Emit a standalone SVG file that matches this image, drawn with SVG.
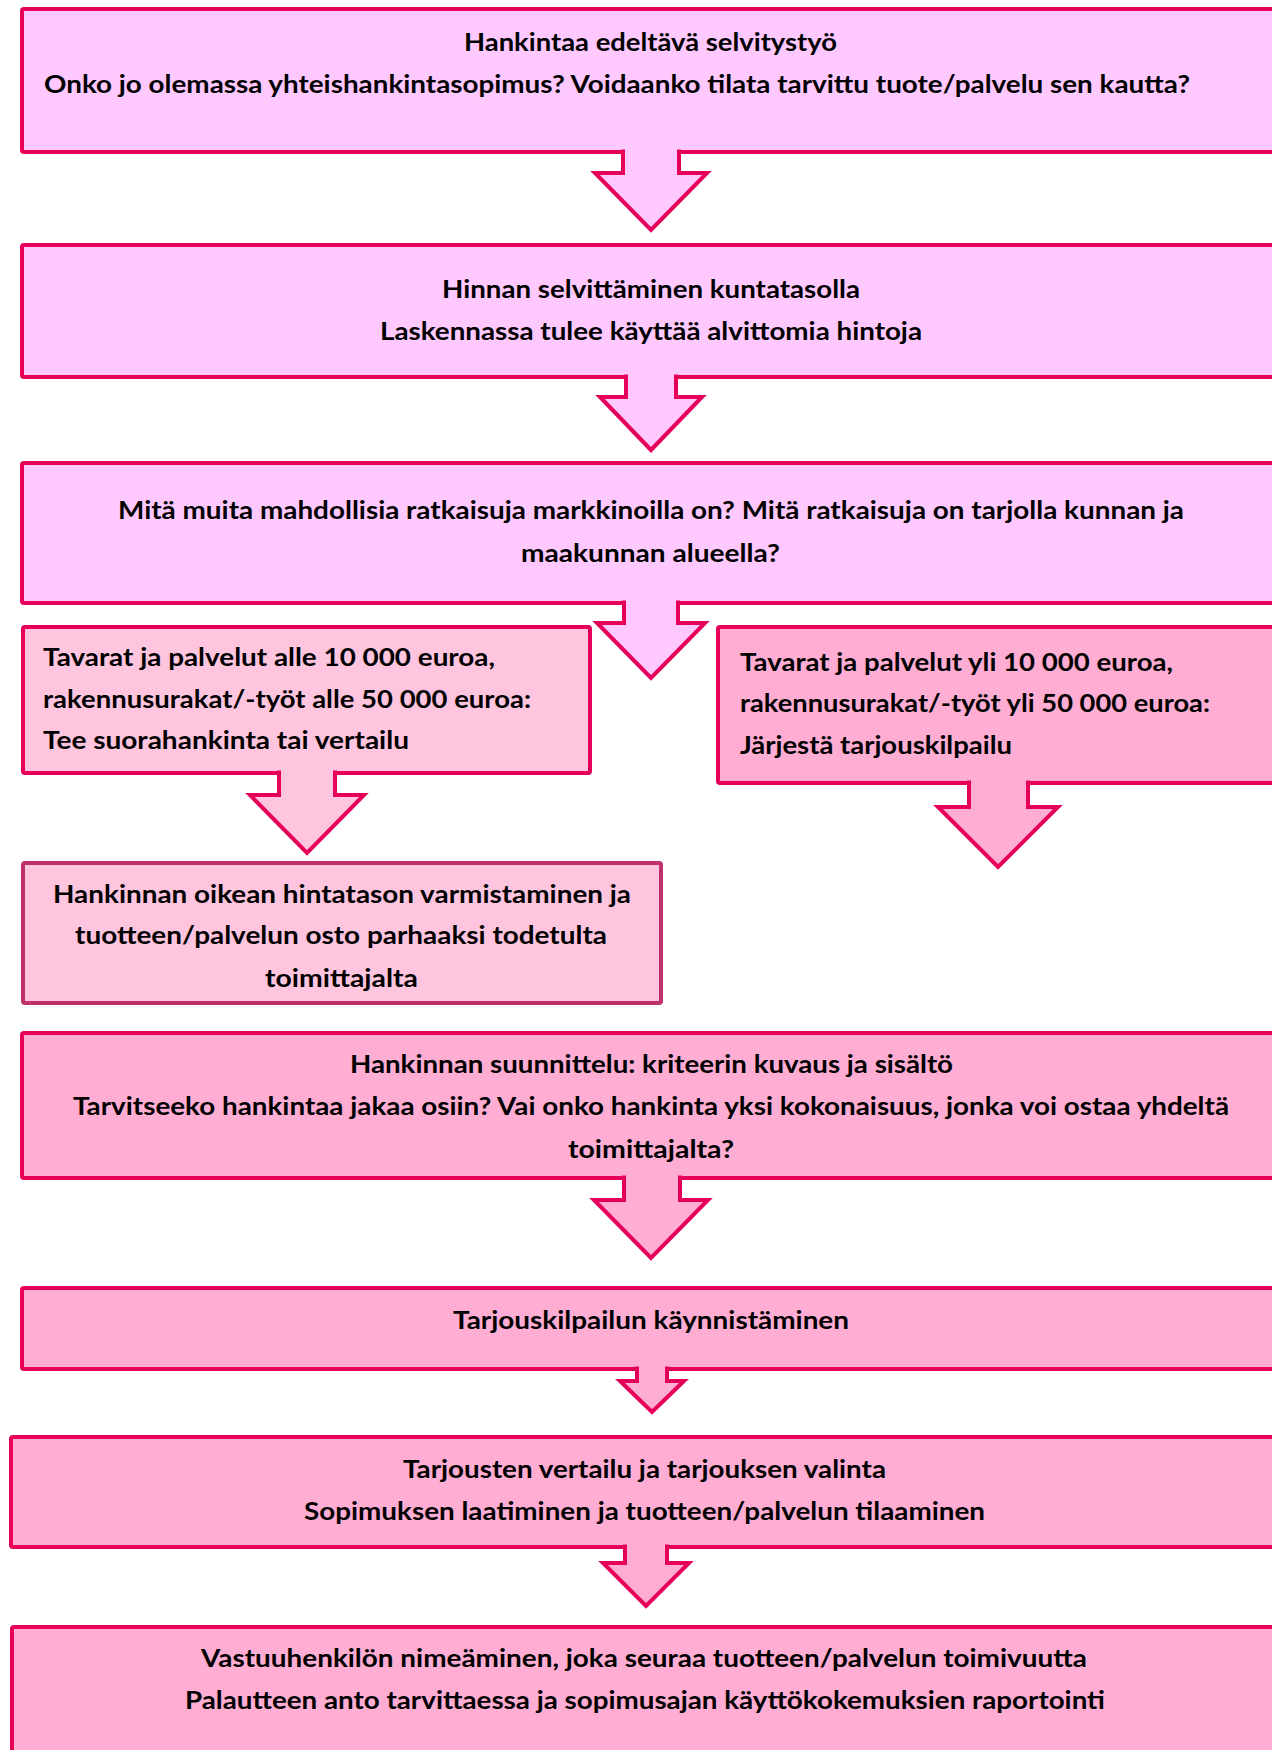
<svg xmlns="http://www.w3.org/2000/svg" width="1272" height="1750" viewBox="0 0 1272 1750">
<style>
.box{stroke:#E6005A;stroke-width:4;stroke-linejoin:miter}
.violet{fill:#FFC8FF}
.light{fill:#FFC5DE}
.pink{fill:#FFADD2}
.dark{stroke:#C0306A}
.arrow{stroke:#E6005A;stroke-width:4;stroke-linejoin:miter}
text{font-family:Lato,"Open Sans","Liberation Sans",sans-serif;font-weight:bold;font-size:24px;fill:#000}
.c{text-anchor:middle}
</style>
<rect width="1272" height="1750" fill="#fff"/>
<g id="n1">
<rect class="box violet" x="22" y="9" width="1270" height="143" rx="2"/>
<text class="c" x="650.5" y="51" textLength="373" lengthAdjust="spacingAndGlyphs">Hankintaa edeltävä selvitystyö</text>
<text x="44" y="93" textLength="1146" lengthAdjust="spacingAndGlyphs">Onko jo olemassa yhteishankintasopimus? Voidaanko tilata tarvittu tuote/palvelu sen kautta?</text>
</g>
<g id="n2">
<rect class="box violet" x="22" y="245" width="1270" height="132" rx="2"/>
<text class="c" x="651" y="298" textLength="418" lengthAdjust="spacingAndGlyphs">Hinnan selvittäminen kuntatasolla</text>
<text class="c" x="651" y="340" textLength="542" lengthAdjust="spacingAndGlyphs">Laskennassa tulee käyttää alvittomia hintoja</text>
</g>
<g id="n3">
<rect class="box violet" x="22" y="463" width="1270" height="140" rx="2"/>
<text class="c" x="651" y="519" textLength="1066" lengthAdjust="spacingAndGlyphs">Mitä muita mahdollisia ratkaisuja markkinoilla on? Mitä ratkaisuja on tarjolla kunnan ja</text>
<text class="c" x="650.5" y="562" textLength="259" lengthAdjust="spacingAndGlyphs">maakunnan alueella?</text>
</g>
<g id="n4">
<rect class="box light" x="23" y="627" width="567" height="146" rx="2"/>
<text x="43" y="666" textLength="452" lengthAdjust="spacingAndGlyphs">Tavarat ja palvelut alle 10 000 euroa,</text>
<text x="43" y="708" textLength="488" lengthAdjust="spacingAndGlyphs">rakennusurakat/-työt alle 50 000 euroa:</text>
<text x="43" y="749" textLength="366" lengthAdjust="spacingAndGlyphs">Tee suorahankinta tai vertailu</text>
</g>
<g id="n5">
<rect class="box pink" x="718" y="627" width="572" height="156" rx="2"/>
<text x="740" y="671" textLength="433" lengthAdjust="spacingAndGlyphs">Tavarat ja palvelut yli 10 000 euroa,</text>
<text x="740" y="712" textLength="470" lengthAdjust="spacingAndGlyphs">rakennusurakat/-työt yli 50 000 euroa:</text>
<text x="740" y="754" textLength="272" lengthAdjust="spacingAndGlyphs">Järjestä tarjouskilpailu</text>
</g>
<g id="n6">
<rect class="box light dark" x="23" y="863" width="638" height="140" rx="2"/>
<text class="c" x="342" y="903" textLength="578" lengthAdjust="spacingAndGlyphs">Hankinnan oikean hintatason varmistaminen ja</text>
<text class="c" x="341" y="944" textLength="532" lengthAdjust="spacingAndGlyphs">tuotteen/palvelun osto parhaaksi todetulta</text>
<text class="c" x="341.5" y="987" textLength="153" lengthAdjust="spacingAndGlyphs">toimittajalta</text>
</g>
<g id="n7">
<rect class="box pink" x="22" y="1033" width="1270" height="145" rx="2"/>
<text class="c" x="651.5" y="1073" textLength="603" lengthAdjust="spacingAndGlyphs">Hankinnan suunnittelu: kriteerin kuvaus ja sisältö</text>
<text class="c" x="651" y="1115" textLength="1156" lengthAdjust="spacingAndGlyphs">Tarvitseeko hankintaa jakaa osiin? Vai onko hankinta yksi kokonaisuus, jonka voi ostaa yhdeltä</text>
<text class="c" x="651" y="1158" textLength="166" lengthAdjust="spacingAndGlyphs">toimittajalta?</text>
</g>
<g id="n8">
<rect class="box pink" x="22" y="1288" width="1270" height="81" rx="2"/>
<text class="c" x="651" y="1329" textLength="396" lengthAdjust="spacingAndGlyphs">Tarjouskilpailun käynnistäminen</text>
</g>
<g id="n9">
<rect class="box pink" x="11" y="1437" width="1281" height="110" rx="2"/>
<text class="c" x="644.5" y="1478" textLength="483" lengthAdjust="spacingAndGlyphs">Tarjousten vertailu ja tarjouksen valinta</text>
<text class="c" x="644.5" y="1520" textLength="681" lengthAdjust="spacingAndGlyphs">Sopimuksen laatiminen ja tuotteen/palvelun tilaaminen</text>
</g>
<g id="n10">
<rect class="box pink" x="12" y="1627" width="1280" height="140" rx="2"/>
<text class="c" x="644" y="1667" textLength="886" lengthAdjust="spacingAndGlyphs">Vastuuhenkilön nimeäminen, joka seuraa tuotteen/palvelun toimivuutta</text>
<text class="c" x="645" y="1709" textLength="920" lengthAdjust="spacingAndGlyphs">Palautteen anto tarvittaessa ja sopimusajan käyttökokemuksien raportointi</text>
</g>
<g id="connectors">
<path class="arrow violet" d="M623,149.5 V173 H595 L651,230 L707,173 H679 V149.5"/>
<path class="arrow violet" d="M626,374.5 V397 H600 L651,450 L702,397 H676 V374.5"/>
<path class="arrow violet" d="M624,600.5 V623 H597 L651,678 L705,623 H678 V600.5"/>
<path class="arrow light" d="M279,770.5 V795 H250 L307,853 L364,795 H335 V770.5"/>
<path class="arrow pink" d="M969,780.5 V807 H938 L998,867 L1058,807 H1028 V780.5"/>
<path class="arrow pink" d="M624,1175.5 V1200 H594 L651,1258 L708,1200 H680 V1175.5"/>
<path class="arrow pink" d="M637,1366.5 V1381 H620 L652,1412 L684,1381 H667 V1366.5"/>
<path class="arrow pink" d="M625,1544.5 V1563 H603 L646,1606 L689,1563 H667 V1544.5"/>
</g>
</svg>
